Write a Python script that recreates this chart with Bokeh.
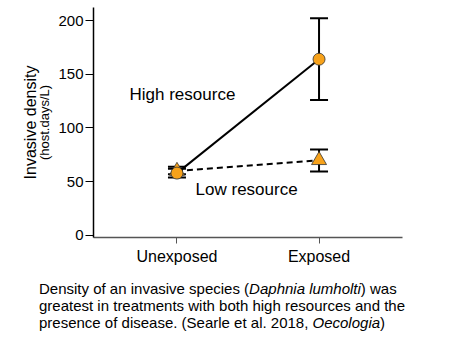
from bokeh.plotting import figure
from bokeh.models import (FactorRange, Range1d, ColumnDataSource, Whisker, TeeHead,
                          Label, LinearAxis, FixedTicker, Div)
from bokeh.layouts import column
from bokeh.embed import file_html
from bokeh.resources import INLINE

# ---- data ----
categories = ["Unexposed", "Exposed"]
high_mean = [58, 164]
high_lower = [54, 126]
high_upper = [62, 202]
low_mean = [60, 70]
low_lower = [57, 59.5]
low_upper = [64, 80]
y_ticks = [0, 50, 100, 150, 200]

FONT = "Liberation Sans"
ORANGE = "#F7A21B"

p = figure(width=450, height=280, output_backend="svg", toolbar_location=None,
           x_range=FactorRange(factors=categories, range_padding=0.0875,
                               range_padding_units="absolute"),
           y_range=Range1d(-1.9, 212.1),
           min_border_left=93, min_border_right=48, min_border_top=7, min_border_bottom=43)
p.outline_line_color = None
p.xgrid.grid_line_color = None
p.ygrid.grid_line_color = None
p.background_fill_color = "white"
p.border_fill_color = "white"

hs = ColumnDataSource(dict(x=categories, y=high_mean, lo=high_lower, up=high_upper))
ls = ColumnDataSource(dict(x=categories, y=low_mean, lo=low_lower, up=low_upper))

for src in (hs, ls):
    w = Whisker(source=src, base="x", lower="lo", upper="up", line_width=2, line_color="black",
                upper_head=TeeHead(size=18, line_width=2, line_color="black"),
                lower_head=TeeHead(size=18, line_width=2, line_color="black"))
    p.add_layout(w)

p.line("x", "y", source=hs, line_width=2, line_color="black")
p.line("x", "y", source=ls, line_width=2, line_color="black", line_dash="6 4")
p.scatter("x", "y", source=ls, marker="triangle", size=15, fill_color=ORANGE,
          line_color="#333333", line_width=0.8)
p.scatter("x", "y", source=hs, marker="circle", size=12, fill_color=ORANGE,
          line_color="#333333", line_width=0.8)

p.add_layout(Label(x=0.166, y=131, text="High resource", text_font=FONT,
                   text_font_size="17px", text_baseline="middle", text_color="black"))
p.add_layout(Label(x=0.631, y=43, text="Low resource", text_font=FONT,
                   text_font_size="17px", text_baseline="middle", text_color="black"))

# axes
xa = p.xaxis[0]
xa.axis_line_color = "#555555"
xa.axis_line_width = 1.5
xa.major_tick_out = 6
xa.major_tick_in = 0
xa.major_tick_line_color = "#555555"
xa.major_label_standoff = 4
xa.major_label_text_font = FONT
xa.major_label_text_font_size = "16px"
xa.major_label_text_color = "black"

ya = p.yaxis[0]
ya.ticker = FixedTicker(ticks=y_ticks)
ya.axis_line_color = "black"
ya.axis_line_width = 1.5
ya.major_tick_out = 8
ya.major_tick_in = 0
ya.minor_tick_line_color = None
ya.major_tick_line_color = "black"
ya.major_label_standoff = 2
ya.major_label_text_font = FONT
ya.major_label_text_font_size = "15px"
ya.major_label_text_color = "black"
ya.axis_label = "(host.days/L)"
ya.axis_label_text_font = FONT
ya.axis_label_text_font_size = "13px"
ya.axis_label_text_font_style = "normal"
ya.axis_label_text_color = "black"
ya.axis_label_standoff = 3

ya2 = LinearAxis(ticker=FixedTicker(ticks=[]), axis_label="Invasive density",
                 axis_line_color=None, major_tick_line_color=None, minor_tick_line_color=None,
                 major_tick_out=0, minor_tick_out=0, major_label_standoff=0,
                 axis_label_standoff=-4, axis_label_text_font=FONT,
                 axis_label_text_font_size="16px", axis_label_text_font_style="normal",
                 axis_label_text_color="black")
p.add_layout(ya2, "left")

caption = Div(
    text=("Density of an invasive species (<i>Daphnia lumholti</i>) was<br>"
          "greatest in treatments with both high resources and the<br>"
          "presence of disease. (Searle et al. 2018, <i>Oecologia</i>)"),
    width=450, height=57, margin=(0, 0, 0, 0),
    styles={"font-family": "Liberation Sans, Arial, sans-serif", "font-size": "15px",
            "line-height": "17px", "padding-left": "39px", "color": "black",
            "white-space": "nowrap"})

layout = column(p, caption, spacing=0)
open("out.html", "w").write(file_html(layout, INLINE))
